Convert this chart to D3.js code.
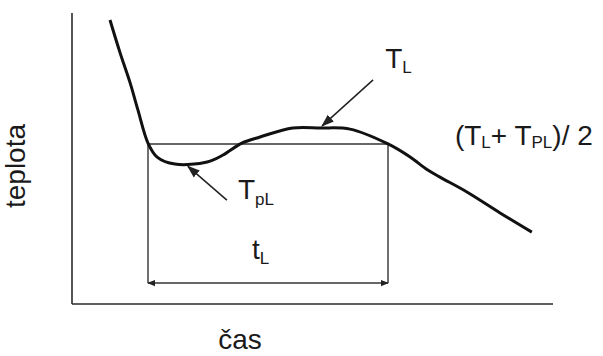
<!DOCTYPE html>
<html lang="cs">
<head>
    <meta charset="UTF-8">
    <title>teplota - čas</title>
    <script src="https://cdn.jsdelivr.net/npm/d3@7"></script>
    <style>
        body { margin: 0; background: #fff; }
        text { font-family: "Liberation Sans", Arial, sans-serif; fill: #1a1a1a; }
        .axis-line { stroke: #2a2a2a; stroke-width: 1.6px; }
        .guide { stroke: #333; stroke-width: 1.4px; fill: none; }
        .curve { stroke: #111; stroke-width: 3px; fill: none; }
        .pointer { stroke: #222; stroke-width: 1.5px; }
    </style>
</head>
<body>
<script>
    // cas (relativni jednotky) a teplota krivky
    const time = [7.9, 10.0, 12.1, 13.7, 15.8, 17.7, 21.4, 28.1, 31.4, 35.3, 39.1, 45.9, 51.6, 57.8, 65.7, 70.3, 73.8, 76.5, 82.1, 89.0, 95.6];
    const temp = [97.6, 86.3, 75.9, 66.7, 55.3, 50.5, 48.1, 48.8, 51.2, 55.3, 57.4, 60.5, 60.5, 60.1, 55.0, 50.5, 46.2, 43.6, 38.5, 31.3, 24.7];

    // hladina (TL + TPL)/2 a interval tL
    const level = 55.0;
    const tStart = 15.8, tEnd = 65.7;

    const width = 603, height = 356;

    const svg = d3.select('body').append('svg')
        .attr('width', width)
        .attr('height', height);

    const defs = svg.append('defs');
    defs.append('marker')
        .attr('id', 'head')
        .attr('viewBox', '0 0 10 10')
        .attr('refX', 9).attr('refY', 5)
        .attr('markerWidth', 8).attr('markerHeight', 8)
        .attr('markerUnits', 'userSpaceOnUse')
        .attr('orient', 'auto-start-reverse')
        .append('path')
        .attr('d', 'M0,1 L10,5 L0,9 Z')
        .attr('fill', '#222');
    defs.append('marker')
        .attr('id', 'bighead')
        .attr('viewBox', '0 0 10 10')
        .attr('refX', 9).attr('refY', 5)
        .attr('markerWidth', 13).attr('markerHeight', 13)
        .attr('markerUnits', 'userSpaceOnUse')
        .attr('orient', 'auto')
        .append('path')
        .attr('d', 'M0,1.5 L10,5 L0,8.5 Z')
        .attr('fill', '#222');

    const x = d3.scaleLinear().domain([0, 100]).range([72, 553]);
    const y = d3.scaleLinear().domain([0, 100]).range([304, 13]);

    // osy
    svg.append('line').attr('class', 'axis-line')
        .attr('x1', x(0)).attr('x2', x(0)).attr('y1', y(100)).attr('y2', y(0));
    svg.append('line').attr('class', 'axis-line')
        .attr('x1', x(0)).attr('x2', x(100)).attr('y1', y(0)).attr('y2', y(0));

    // obdelnik tL
    svg.append('line').attr('class', 'guide')
        .attr('x1', x(tStart)).attr('x2', x(tEnd)).attr('y1', y(level)).attr('y2', y(level));
    svg.append('line').attr('class', 'guide')
        .attr('x1', x(tStart)).attr('x2', x(tStart)).attr('y1', y(level)).attr('y2', y(7.2));
    svg.append('line').attr('class', 'guide')
        .attr('x1', x(tEnd)).attr('x2', x(tEnd)).attr('y1', y(level)).attr('y2', y(7.2));
    svg.append('line').attr('class', 'guide')
        .attr('x1', x(tStart)).attr('x2', x(tEnd)).attr('y1', y(7.2)).attr('y2', y(7.2))
        .attr('marker-start', 'url(#head)')
        .attr('marker-end', 'url(#head)');

    // krivka
    const line = d3.line()
        .x((d, i) => x(time[i]))
        .y(d => y(d))
        .curve(d3.curveCatmullRom.alpha(0.5));
    svg.append('path').attr('class', 'curve').attr('d', line(temp));

    // sipky
    svg.append('line').attr('class', 'pointer')
        .attr('x1', x(62.6)).attr('y1', y(77.0))
        .attr('x2', x(52.0)).attr('y2', y(61.2))
        .attr('marker-end', 'url(#bighead)');
    svg.append('line').attr('class', 'pointer')
        .attr('x1', x(32.2)).attr('y1', y(35.7))
        .attr('x2', x(24.1)).attr('y2', y(47.3))
        .attr('marker-end', 'url(#bighead)');

    function label(t, v, parts, size) {
        const txt = svg.append('text')
            .attr('x', x(t)).attr('y', y(v))
            .style('font-size', size + 'px');
        parts.forEach(p => {
            txt.append('tspan')
                .attr('dy', p.dy || 0)
                .style('font-size', (p.size || size) + 'px')
                .text(p.s);
        });
        return txt;
    }

    label(65.1, 81.1, [{s: 'T'}, {s: 'L', size: 17, dy: 5}], 28);
    label(34.5, 36.1, [{s: 'T'}, {s: 'pL', size: 17, dy: 6}], 28);
    label(37.4, 15.5, [{s: 't'}, {s: 'L', size: 17, dy: 5}], 28);
    label(79.6, 54.6, [
        {s: '(T'}, {s: 'L', size: 17, dy: 3}, {s: '+ T', dy: -3},
        {s: 'PL', size: 17, dy: 3}, {s: ')/ 2', dy: -3}
    ], 28);

    svg.append('text')
        .attr('x', 240).attr('y', 349)
        .attr('text-anchor', 'middle')
        .style('font-size', '28px')
        .text('čas');

    svg.append('text')
        .attr('transform', 'translate(25,166) rotate(-90)')
        .attr('text-anchor', 'middle')
        .style('font-size', '28px')
        .text('teplota');
</script>
</body>
</html>
